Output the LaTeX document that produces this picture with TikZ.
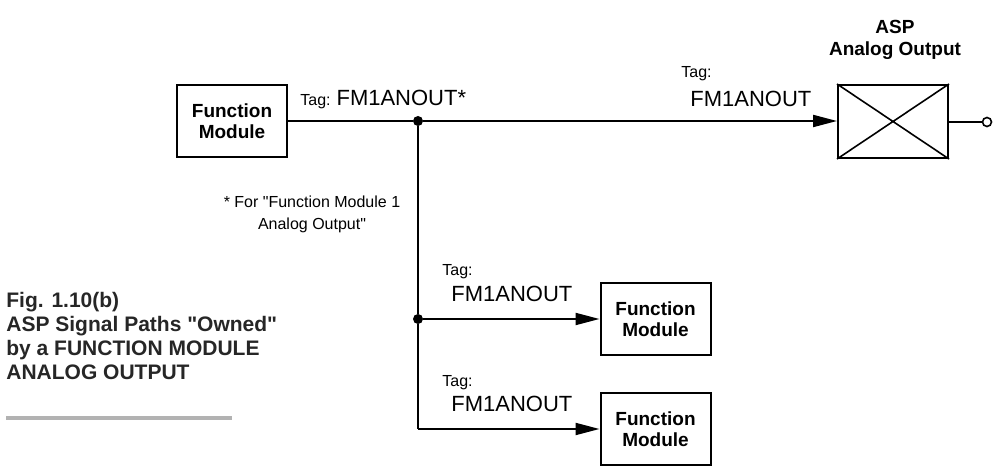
\documentclass[tikz,border=0pt]{standalone}
\usepackage{fontspec}
\setmainfont{Liberation Sans}
\usetikzlibrary{arrows.meta}
\begin{document}
\begin{tikzpicture}[x=0.5pt,y=-0.5pt,
 box/.style={draw,line width=1pt,minimum width=55pt,minimum height=36pt,font=\bfseries\fontsize{9.5}{10.5}\selectfont,align=center,inner sep=0},
 ln/.style={line width=1pt},
 arr/.style={ln,-{Triangle[length=12pt,width=6pt]}},
 dot/.style={circle,fill,inner sep=0,minimum size=5pt},
 tag/.style={font=\fontsize{8}{9}\selectfont,inner sep=0},
 tagv/.style={font=\fontsize{11}{12}\selectfont,inner sep=0}]
\useasboundingbox (0,0) rectangle (998,470);
\node[box] (fm) at (232,121) {Function\\Module};
\node[box] (f2) at (655.5,319.5) {Function\\Module};
\node[box] (f3) at (655.5,429.5) {Function\\Module};
\node[draw,line width=1pt,minimum width=55pt,minimum height=36.5pt,inner sep=0] (asp) at (893,121.5) {};
\draw[line width=0.8pt] (asp.north west) -- (asp.south east) (asp.south west) -- (asp.north east);
\node[font=\bfseries\fontsize{9.5}{11}\selectfont,align=center] (aspl) at (895,40) {ASP\\Analog Output};
\node[dot] (j0) at (418,121) {};
\node[dot] (j1) at (418,319) {};
\coordinate (j2) at (418,429);
\draw[ln] (fm.east |- j0) -- (j0);
\draw[arr] (j0) -- (asp.west |- j0);
\draw[ln] (j0) -- (j1) -- (j2);
\draw[arr] (j1) -- (f2.west |- j1);
\draw[arr] (j2) -- (f3.west |- j2);
\node[draw,circle,line width=0.8pt,inner sep=0,minimum size=4.5pt] (oc) at (987,122) {};
\draw[ln] (asp.east |- oc) -- (oc);
\node[anchor=base west,inner sep=0] (t0) at (300,106) {\fontsize{8}{9}\selectfont Tag: \fontsize{11}{12}\selectfont FM1ANOUT*};
\node[tag,anchor=base west] (t1) at (681,78) {Tag:};
\node[tagv,anchor=base west] (v1) at (690,107) {FM1ANOUT};
\node[tag,anchor=base west] (t2) at (442,276) {Tag:};
\node[tagv,anchor=base west] (v2) at (451,302) {FM1ANOUT};
\node[tag,anchor=base west] (t3) at (442,387) {Tag:};
\node[tagv,anchor=base west] (v3) at (451,412) {FM1ANOUT};
\node[font=\fontsize{8}{11}\selectfont,align=center] (note) at (312,214) {* For \textquotedbl Function Module 1\\Analog Output\textquotedbl};
\node[anchor=north west,font=\bfseries\fontsize{10.5}{12}\selectfont,align=left,inner sep=0,text=black!85] (cap) at (6,292) {Fig. 1.10(b)\\ASP Signal Paths \textquotedbl Owned\textquotedbl\\by a FUNCTION MODULE\\ANALOG OUTPUT};
\draw[line width=2pt,black!30] (6,418) -- (232,418);
\end{tikzpicture}
\end{document}
